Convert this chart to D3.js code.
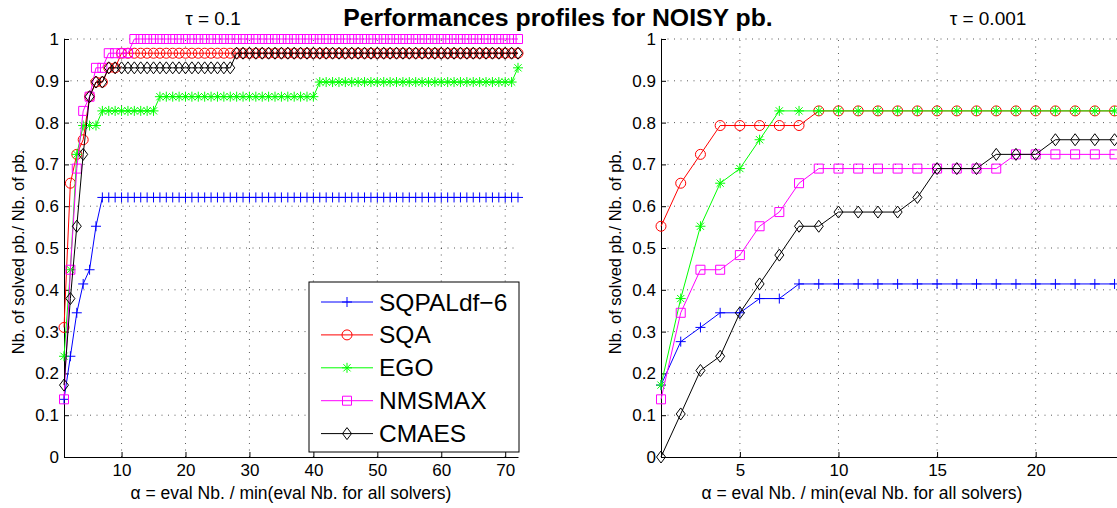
<!DOCTYPE html>
<html>
<head>
<meta charset="utf-8">
<script src="https://cdn.jsdelivr.net/npm/d3@7"></script>
<style>
	body { margin: 0; background: #fff; }
	#chart svg { display: block; }
</style>
</head>
<body>
<div id="chart"></div>
<script>

// solvers, in legend order
var solvers = ["SQPALdf\u22126", "SQA", "EGO", "NMSMAX", "CMAES"]
var colors = ["#0000ff", "#ff0000", "#00ff00", "#ff00ff", "#000000"]
var markers = ["plus", "circle", "star", "square", "diamond"]

// tau = 0.1, alpha = 1..72
var left_sqpal = [0.138,0.241,0.345,0.414,0.448,0.552,
	0.621,0.621,0.621,0.621,0.621,0.621,0.621,0.621,0.621,0.621,0.621,0.621,0.621,0.621,0.621,0.621,
	0.621,0.621,0.621,0.621,0.621,0.621,0.621,0.621,0.621,0.621,0.621,0.621,0.621,0.621,0.621,0.621,
	0.621,0.621,0.621,0.621,0.621,0.621,0.621,0.621,0.621,0.621,0.621,0.621,0.621,0.621,0.621,0.621,
	0.621,0.621,0.621,0.621,0.621,0.621,0.621,0.621,0.621,0.621,0.621,0.621,0.621,0.621,0.621,0.621,0.621,0.621]
var left_sqa = [0.310,0.655,0.724,0.759,0.862,0.897,0.897,0.931,0.931,
	0.966,0.966,0.966,0.966,0.966,0.966,0.966,0.966,0.966,0.966,0.966,0.966,0.966,0.966,0.966,0.966,
	0.966,0.966,0.966,0.966,0.966,0.966,0.966,0.966,0.966,0.966,0.966,0.966,0.966,0.966,0.966,0.966,
	0.966,0.966,0.966,0.966,0.966,0.966,0.966,0.966,0.966,0.966,0.966,0.966,0.966,0.966,0.966,0.966,
	0.966,0.966,0.966,0.966,0.966,0.966,0.966,0.966,0.966,0.966,0.966,0.966,0.966,0.966,0.966]
var left_ego = [0.241,0.448,0.724,0.793,0.793,0.793,
	0.828,0.828,0.828,0.828,0.828,0.828,0.828,0.828,0.828,
	0.862,0.862,0.862,0.862,0.862,0.862,0.862,0.862,0.862,0.862,0.862,0.862,0.862,0.862,0.862,0.862,
	0.862,0.862,0.862,0.862,0.862,0.862,0.862,0.862,0.862,
	0.897,0.897,0.897,0.897,0.897,0.897,0.897,0.897,0.897,0.897,0.897,0.897,0.897,0.897,0.897,0.897,
	0.897,0.897,0.897,0.897,0.897,0.897,0.897,0.897,0.897,0.897,0.897,0.897,0.897,0.897,0.897,
	0.931]
var left_nmsmax = [0.138,0.448,0.690,0.828,0.862,0.931,0.931,0.966,0.966,0.966,0.966,
	1,1,1,1,1,1,1,1,1,1,1,1,1,1,1,1,1,1,1,1,1,1,1,1,1,1,1,1,1,1,1,1,1,1,1,1,1,1,1,1,
	1,1,1,1,1,1,1,1,1,1,1,1,1,1,1,1,1,1,1,1,1]
var left_cmaes = [0.172,0.379,0.552,0.724,0.862,0.897,0.897,
	0.931,0.931,0.931,0.931,0.931,0.931,0.931,0.931,0.931,0.931,0.931,0.931,0.931,0.931,0.931,0.931,
	0.931,0.931,0.931,0.931,
	0.966,0.966,0.966,0.966,0.966,0.966,0.966,0.966,0.966,0.966,0.966,0.966,0.966,0.966,0.966,0.966,
	0.966,0.966,0.966,0.966,0.966,0.966,0.966,0.966,0.966,0.966,0.966,0.966,0.966,0.966,0.966,0.966,
	0.966,0.966,0.966,0.966,0.966,0.966,0.966,0.966,0.966,0.966,0.966,0.966,0.966]

// tau = 0.001, alpha = 1..24 (the rest is cut off by the picture)
var right_sqpal = [0.172,0.276,0.310,0.345,0.345,0.379,0.379,
	0.414,0.414,0.414,0.414,0.414,0.414,0.414,0.414,0.414,0.414,0.414,0.414,0.414,0.414,0.414,0.414,0.414]
var right_sqa = [0.552,0.655,0.724,0.793,0.793,0.793,0.793,0.793,
	0.828,0.828,0.828,0.828,0.828,0.828,0.828,0.828,0.828,0.828,0.828,0.828,0.828,0.828,0.828,0.828]
var right_ego = [0.172,0.379,0.552,0.655,0.690,0.759,0.828,
	0.828,0.828,0.828,0.828,0.828,0.828,0.828,0.828,0.828,0.828,0.828,0.828,0.828,0.828,0.828,0.828,0.828]
var right_nmsmax = [0.138,0.345,0.448,0.448,0.483,0.552,0.586,0.655,
	0.690,0.690,0.690,0.690,0.690,0.690,0.690,0.690,0.690,0.690,
	0.724,0.724,0.724,0.724,0.724,0.724]
var right_cmaes = [0.000,0.103,0.207,0.241,0.345,0.414,0.483,0.552,0.552,0.586,0.586,0.586,0.586,
	0.621,0.690,0.690,0.690,0.724,0.724,0.724,0.759,0.759,0.759,0.759]

var yTicks = [0,0.1,0.2,0.3,0.4,0.5,0.6,0.7,0.8,0.9,1]
var leftXTicks = [10,20,30,40,50,60,70]
var rightXTicks = [5,10,15,20]

var width = 1117
var height = 508
var font = "'Liberation Sans', Arial, Helvetica, sans-serif"

var svg = d3.select("#chart").append("svg")
	.attr("width", width)
	.attr("height", height)
	.style("font-family", font)

var y = d3.scaleLinear()
	.domain([0, 1])
	.range([457, 39])

function markerPath(type) {
	var p = d3.path()
	if (type == "plus") {
		p.moveTo(-5, 0); p.lineTo(5, 0)
		p.moveTo(0, -5); p.lineTo(0, 5)
	}
	else if (type == "circle") {
		p.moveTo(5, 0); p.arc(0, 0, 5, 0, 2 * Math.PI)
	}
	else if (type == "star") {
		p.moveTo(-5, 0); p.lineTo(5, 0)
		p.moveTo(0, -5); p.lineTo(0, 5)
		p.moveTo(-3.6, -3.6); p.lineTo(3.6, 3.6)
		p.moveTo(-3.6, 3.6); p.lineTo(3.6, -3.6)
	}
	else if (type == "square") {
		p.rect(-4.5, -4.5, 9, 9)
	}
	else if (type == "diamond") {
		p.moveTo(0, -6); p.lineTo(4.5, 0); p.lineTo(0, 6); p.lineTo(-4.5, 0); p.closePath()
	}
	return p.toString()
}

function drawPanel(series, x, xTicks, yLabelX, xLabelX) {

	var g = svg.append("g")
	var xr = x.range()

	// dotted grid
	g.append("g")
		.selectAll("line")
		.data(yTicks.filter(d => d > 0))
		.enter().append("line")
			.attr("x1", xr[0]).attr("x2", xr[1])
			.attr("y1", d => y(d)).attr("y2", d => y(d))
			.attr("stroke", "#000")
			.attr("stroke-opacity", 0.65)
			.attr("stroke-dasharray", "1,5.5")

	g.append("g")
		.selectAll("line")
		.data(xTicks)
		.enter().append("line")
			.attr("x1", d => x(d)).attr("x2", d => x(d))
			.attr("y1", y(0)).attr("y2", y(1))
			.attr("stroke", "#000")
			.attr("stroke-opacity", 0.65)
			.attr("stroke-dasharray", "1,5.5")

	// axes, ticks pointing inside like matlab
	g.append("g")
		.attr("transform", "translate(" + xr[0] + ",0)")
		.call(d3.axisLeft(y).tickValues(yTicks).tickFormat(d3.format(".1~f"))
			.tickSizeInner(-5).tickSizeOuter(0).tickPadding(5))

	g.append("g")
		.attr("transform", "translate(0," + y(0) + ")")
		.call(d3.axisBottom(x).tickValues(xTicks).tickFormat(d3.format("d"))
			.tickSizeInner(-5).tickSizeOuter(0).tickPadding(7))

	g.selectAll(".tick text")
		.style("font-family", font)
		.style("font-size", "17px")
		.attr("fill", "#000")
	g.selectAll(".domain, .tick line").attr("stroke", "#000")

	var line = d3.line()
		.x((d, i) => x(i + 1))
		.y(d => y(d))

	series.forEach(function(values, k) {
		var s = g.append("g")
		s.append("path")
			.attr("d", line(values))
			.attr("fill", "none")
			.attr("stroke", colors[k])
			.attr("stroke-width", 1)

		s.selectAll("path.mark")
			.data(values)
			.enter().append("path")
				.attr("class", "mark")
				.attr("transform", (d, i) => "translate(" + x(i + 1) + "," + y(d) + ")")
				.attr("d", markerPath(markers[k]))
				.attr("fill", "none")
				.attr("stroke", colors[k])
				.attr("stroke-width", 1)
	})

	g.append("text")
		.attr("class", "ylabel")
		.attr("transform", "translate(" + yLabelX + ",252) rotate(-90)")
		.attr("text-anchor", "middle")
		.style("font-size", "16.5px")
		.text("Nb. of solved pb./ Nb. of pb.")

	g.append("text")
		.attr("class", "xlabel")
		.attr("x", xLabelX)
		.attr("y", 499)
		.attr("text-anchor", "middle")
		.style("font-size", "17.5px")
		.text("\u03b1 = eval Nb. / min(eval Nb. for all solvers)")

	return g
}

var xLeft = d3.scaleLinear().domain([1, 72]).range([64, 518])
var xRight = d3.scaleLinear().domain([1, 30]).range([661, 661 + 29 * 19.72])

drawPanel([left_sqpal, left_sqa, left_ego, left_nmsmax, left_cmaes], xLeft, leftXTicks, 24, 291)
drawPanel([right_sqpal, right_sqa, right_ego, right_nmsmax, right_cmaes], xRight, rightXTicks, 621, 862)

// legend
var legend = svg.append("g")
	.attr("transform", "translate(309,282)")

legend.append("rect")
	.attr("width", 210)
	.attr("height", 170)
	.attr("fill", "#fff")
	.attr("stroke", "#000")

var rows = legend.selectAll(".row")
	.data(solvers)
	.enter().append("g")
		.attr("class", "row")
		.attr("transform", (d, i) => "translate(0," + (20 + i * 32.9) + ")")

rows.append("line")
	.attr("x1", 12).attr("x2", 64)
	.attr("stroke", (d, i) => colors[i])
	.attr("stroke-width", 1)

rows.append("path")
	.attr("transform", "translate(38,0)")
	.attr("d", (d, i) => markerPath(markers[i]))
	.attr("fill", "none")
	.attr("stroke", (d, i) => colors[i])

rows.append("text")
	.attr("x", 70)
	.attr("dy", "0.35em")
	.style("font-size", "24.5px")
	.text(d => d)

// titles
svg.append("text")
	.attr("x", 213)
	.attr("y", 25)
	.attr("text-anchor", "middle")
	.style("font-size", "19px")
	.text("\u03c4 = 0.1")

svg.append("text")
	.attr("x", 988)
	.attr("y", 25)
	.attr("text-anchor", "middle")
	.style("font-size", "19px")
	.text("\u03c4 = 0.001")

svg.append("text")
	.attr("x", 558)
	.attr("y", 26)
	.attr("text-anchor", "middle")
	.style("font-size", "24.8px")
	.style("font-weight", "bold")
	.text("Performances profiles for NOISY pb.")

</script>
</body>
</html>
